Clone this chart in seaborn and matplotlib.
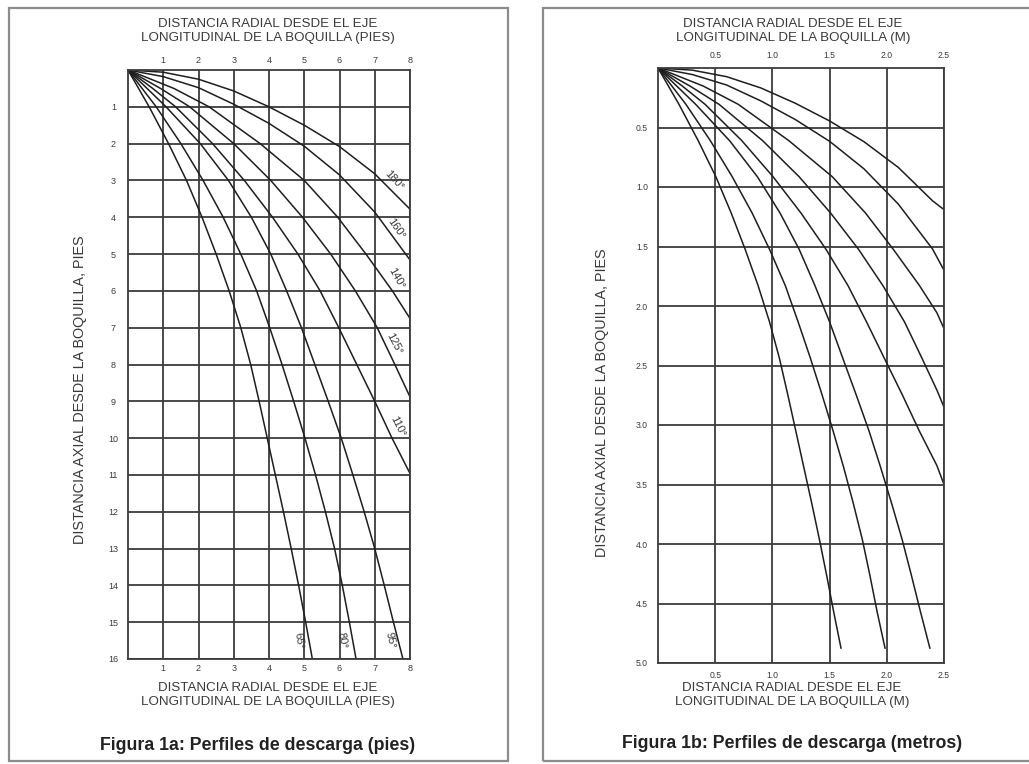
import numpy as np
import pandas as pd
import matplotlib
matplotlib.use("Agg")
import matplotlib.pyplot as plt
import seaborn as sns
from matplotlib.patches import Rectangle

# ---------------- DATA ----------------
angle_names = ["65°", "80°", "95°", "110°", "125°", "140°", "160°", "180°"]

# Figure 1a (feet): radial x, axial y
ft_y_full = [0, 1, 2, 3, 4, 5, 6, 7, 8, 9, 10, 11, 12, 13, 14, 15, 16]
ft_65_x = [0, 0.60, 1.15, 1.66, 2.10, 2.50, 2.87, 3.20, 3.48, 3.72, 3.95, 4.18, 4.41, 4.63, 4.84, 5.04, 5.23]
ft_80_x = [0, 0.80, 1.50, 2.13, 2.70, 3.20, 3.65, 4.02, 4.37, 4.70, 5.02, 5.32, 5.60, 5.86, 6.08, 6.28, 6.47]
ft_95_x = [0, 1.08, 2.05, 2.85, 3.50, 4.05, 4.50, 4.92, 5.30, 5.68, 6.05, 6.38, 6.70, 7.00, 7.27, 7.53, 7.80]
ft_110_y = [0, 0.5, 1, 2, 3, 4, 5, 6, 7, 8, 9, 10, 10.96]
ft_110_x = [0, 0.70, 1.35, 2.40, 3.30, 4.10, 4.82, 5.45, 5.98, 6.49, 7.00, 7.49, 8.00]
ft_125_y = [0, 0.5, 1, 2, 3, 4, 5, 6, 7, 8, 8.88]
ft_125_x = [0, 0.92, 1.75, 3.00, 4.05, 4.95, 5.75, 6.45, 7.07, 7.57, 8.00]
ft_140_y = [0, 0.5, 1, 2, 3, 4, 5, 6, 6.75]
ft_140_x = [0, 1.30, 2.30, 3.75, 5.00, 5.95, 6.75, 7.50, 8.00]
ft_160_x = [0, 1, 2, 3, 4, 5, 6, 7, 8]
ft_160_y = [0, 0.18, 0.48, 0.93, 1.45, 2.07, 2.85, 3.86, 5.16]
ft_180_x = [0, 1, 2, 3, 4, 5, 6, 7, 8]
ft_180_y = [0, 0.06, 0.25, 0.57, 1.00, 1.50, 2.08, 2.82, 3.78]

# Figure 1b (metres)
m_y_full = [0, 0.305, 0.610, 0.914, 1.219, 1.524, 1.829, 2.134, 2.438, 2.743, 3.048,
            3.353, 3.658, 3.962, 4.267, 4.572, 4.877]
m_65_x = [0, 0.183, 0.351, 0.506, 0.640, 0.762, 0.875, 0.975, 1.061, 1.134, 1.204,
          1.274, 1.344, 1.411, 1.475, 1.536, 1.600]
m_80_x = [0, 0.244, 0.457, 0.649, 0.823, 0.975, 1.113, 1.225, 1.332, 1.433, 1.530,
          1.622, 1.707, 1.786, 1.853, 1.916, 1.985]
m_95_x = [0, 0.329, 0.625, 0.869, 1.067, 1.234, 1.372, 1.500, 1.615, 1.731, 1.844,
          1.945, 2.042, 2.134, 2.216, 2.295, 2.377]
m_110_y = [0, 0.152, 0.305, 0.610, 0.914, 1.219, 1.524, 1.829, 2.134, 2.438, 2.743, 3.048, 3.341, 3.50]
m_110_x = [0, 0.213, 0.411, 0.732, 1.006, 1.250, 1.469, 1.661, 1.823, 1.978, 2.134, 2.283, 2.438, 2.50]
m_125_y = [0, 0.152, 0.305, 0.610, 0.914, 1.219, 1.524, 1.829, 2.134, 2.438, 2.707, 2.85]
m_125_x = [0, 0.280, 0.533, 0.914, 1.234, 1.509, 1.753, 1.966, 2.155, 2.307, 2.438, 2.50]
m_140_y = [0, 0.152, 0.305, 0.610, 0.914, 1.219, 1.524, 1.829, 2.057, 2.19]
m_140_x = [0, 0.396, 0.701, 1.143, 1.524, 1.814, 2.057, 2.286, 2.438, 2.50]
m_160_x = [0, 0.30, 0.60, 0.90, 1.20, 1.50, 1.80, 2.10, 2.40, 2.50]
m_160_y = [0, 0.055, 0.143, 0.277, 0.433, 0.616, 0.847, 1.143, 1.521, 1.70]
m_180_x = [0, 0.30, 0.60, 0.90, 1.20, 1.50, 1.80, 2.10, 2.40, 2.50]
m_180_y = [0, 0.018, 0.073, 0.168, 0.296, 0.445, 0.619, 0.835, 1.116, 1.19]

ft_xticks = [1, 2, 3, 4, 5, 6, 7, 8]
ft_yticks = list(range(1, 17))
m_xticks = [0.5, 1.0, 1.5, 2.0, 2.5]
m_yticks = [0.5, 1.0, 1.5, 2.0, 2.5, 3.0, 3.5, 4.0, 4.5, 5.0]

radial_ft = "DISTANCIA RADIAL DESDE EL EJE\nLONGITUDINAL DE LA BOQUILLA (PIES)"
radial_m = "DISTANCIA RADIAL DESDE EL EJE\nLONGITUDINAL DE LA BOQUILLA (M)"
axial_lbl = "DISTANCIA AXIAL DESDE LA BOQUILLA, PIES"
title_a = "Figura 1a: Perfiles de descarga (pies)"
title_b = "Figura 1b: Perfiles de descarga (metros)"


def long_df(pairs):
    rows = []
    for name, xs, ys in pairs:
        for i, (xv, yv) in enumerate(zip(xs, ys)):
            rows.append({"curve": name, "order": i, "x": xv, "y": yv})
    return pd.DataFrame(rows)


df_ft = long_df([
    ("65°", ft_65_x, ft_y_full), ("80°", ft_80_x, ft_y_full), ("95°", ft_95_x, ft_y_full),
    ("110°", ft_110_x, ft_110_y), ("125°", ft_125_x, ft_125_y), ("140°", ft_140_x, ft_140_y),
    ("160°", ft_160_x, ft_160_y), ("180°", ft_180_x, ft_180_y),
])
df_m = long_df([
    ("65°", m_65_x, m_y_full), ("80°", m_80_x, m_y_full), ("95°", m_95_x, m_y_full),
    ("110°", m_110_x, m_110_y), ("125°", m_125_x, m_125_y), ("140°", m_140_x, m_140_y),
    ("160°", m_160_x, m_160_y), ("180°", m_180_x, m_180_y),
])

# ---------------- STYLE ----------------
sns.set_theme(style="white")
plt.rcParams['font.family'] = ['Liberation Sans', 'DejaVu Sans']

W, H = 1029, 764
def fx(px):
    return px / W
def fy(py):
    return 1 - py / H

GRID = "#3c3c3c"
CURVE = "#1e1e1e"
TXT = "#3a3a3a"

fig = plt.figure(figsize=(W / 100, H / 100), dpi=100)
fig.patch.set_facecolor("white")

axL = fig.add_axes([fx(128), fy(659), fx(410) - fx(128), fy(70) - fy(659)])
axR = fig.add_axes([fx(658), fy(663), fx(944) - fx(658), fy(68) - fy(663)])

for ax, df in ((axL, df_ft), (axR, df_m)):
    sns.lineplot(data=df, x="x", y="y", units="curve", estimator=None, sort=False,
                 color=CURVE, lw=1.1, ax=ax, legend=False)
    ax.set_xlabel("")
    ax.set_ylabel("")
    ax.grid(True, color=GRID, lw=1.3)
    ax.set_axisbelow(True)
    for sp in ax.spines.values():
        sp.set_visible(True)
        sp.set_color(GRID)
        sp.set_linewidth(1.3)

# left panel axes
axL.set_xlim(0, 8)
axL.set_ylim(16, 0)
axL.set_xticks(ft_xticks)
axL.set_xticklabels([str(v) for v in ft_xticks])
axL.set_yticks(ft_yticks)
axL.set_yticklabels([str(v) for v in ft_yticks])
axL.tick_params(axis="x", top=True, labeltop=True, bottom=True, labelbottom=True,
                length=0, pad=3.5, labelsize=6.5, labelcolor=TXT)
axL.tick_params(axis="y", length=0, pad=10.5, labelsize=6.5, labelcolor=TXT)
for t in axL.get_yticklabels():
    t.set_ha("center")

# right panel axes
axR.set_xlim(0, 2.5)
axR.set_ylim(5.0, 0)
axR.set_xticks(m_xticks)
axR.set_xticklabels([f"{v:.1f}" for v in m_xticks])
axR.set_yticks(m_yticks)
axR.set_yticklabels([f"{v:.1f}" for v in m_yticks])
axR.tick_params(axis="x", top=True, labeltop=True, bottom=True, labelbottom=True,
                length=0, pad=6, labelsize=6.2, labelcolor=TXT)
axR.tick_params(axis="y", length=0, pad=11.5, labelsize=6.2, labelcolor=TXT)
for t in axR.get_yticklabels():
    t.set_ha("center")

# angle labels on left panel
lab_pos = {
    "180°": (7.56, 2.99, -47), "160°": (7.61, 4.30, -55), "140°": (7.61, 5.66, -60),
    "125°": (7.56, 7.43, -62), "110°": (7.66, 9.69, -63),
    "65°": (4.85, 15.5, -80), "80°": (6.08, 15.5, -78), "95°": (7.45, 15.5, -76),
}
for name, (lx, ly, rot) in lab_pos.items():
    axL.text(lx, ly, name, rotation=rot, ha="center", va="center", fontsize=8,
             color=TXT, rotation_mode="anchor")

# axis titles
fig.text(fx(268), fy(31), radial_ft, ha="center", va="center", fontsize=9.6,
         color=TXT, linespacing=1.3)
fig.text(fx(268), fy(695), radial_ft, ha="center", va="center", fontsize=9.6,
         color=TXT, linespacing=1.3)
fig.text(fx(793), fy(31), radial_m, ha="center", va="center", fontsize=9.6,
         color=TXT, linespacing=1.3)
fig.text(fx(792), fy(695), radial_m, ha="center", va="center", fontsize=9.6,
         color=TXT, linespacing=1.3)
fig.text(fx(80), fy(390), axial_lbl, rotation=90, ha="center", va="center",
         fontsize=10.4, color=TXT)
fig.text(fx(602), fy(403), axial_lbl, rotation=90, ha="center", va="center",
         fontsize=10.4, color=TXT)

fig.text(fx(258), fy(745), title_a, ha="center", va="center", fontsize=12.8,
         fontweight="bold", color="#222222")
fig.text(fx(792), fy(743), title_b, ha="center", va="center", fontsize=12.8,
         fontweight="bold", color="#222222")

# frames
fig.add_artist(Rectangle((fx(9), fy(761)), fx(508) - fx(9), fy(8) - fy(761), fill=False,
                         ec="#8c8c8c", lw=1.6, transform=fig.transFigure))
fig.add_artist(Rectangle((fx(543), fy(761)), fx(1045) - fx(543), fy(8) - fy(761), fill=False,
                         ec="#8c8c8c", lw=1.6, transform=fig.transFigure, clip_on=False))

fig.savefig("out.png", dpi=100, facecolor="white")
